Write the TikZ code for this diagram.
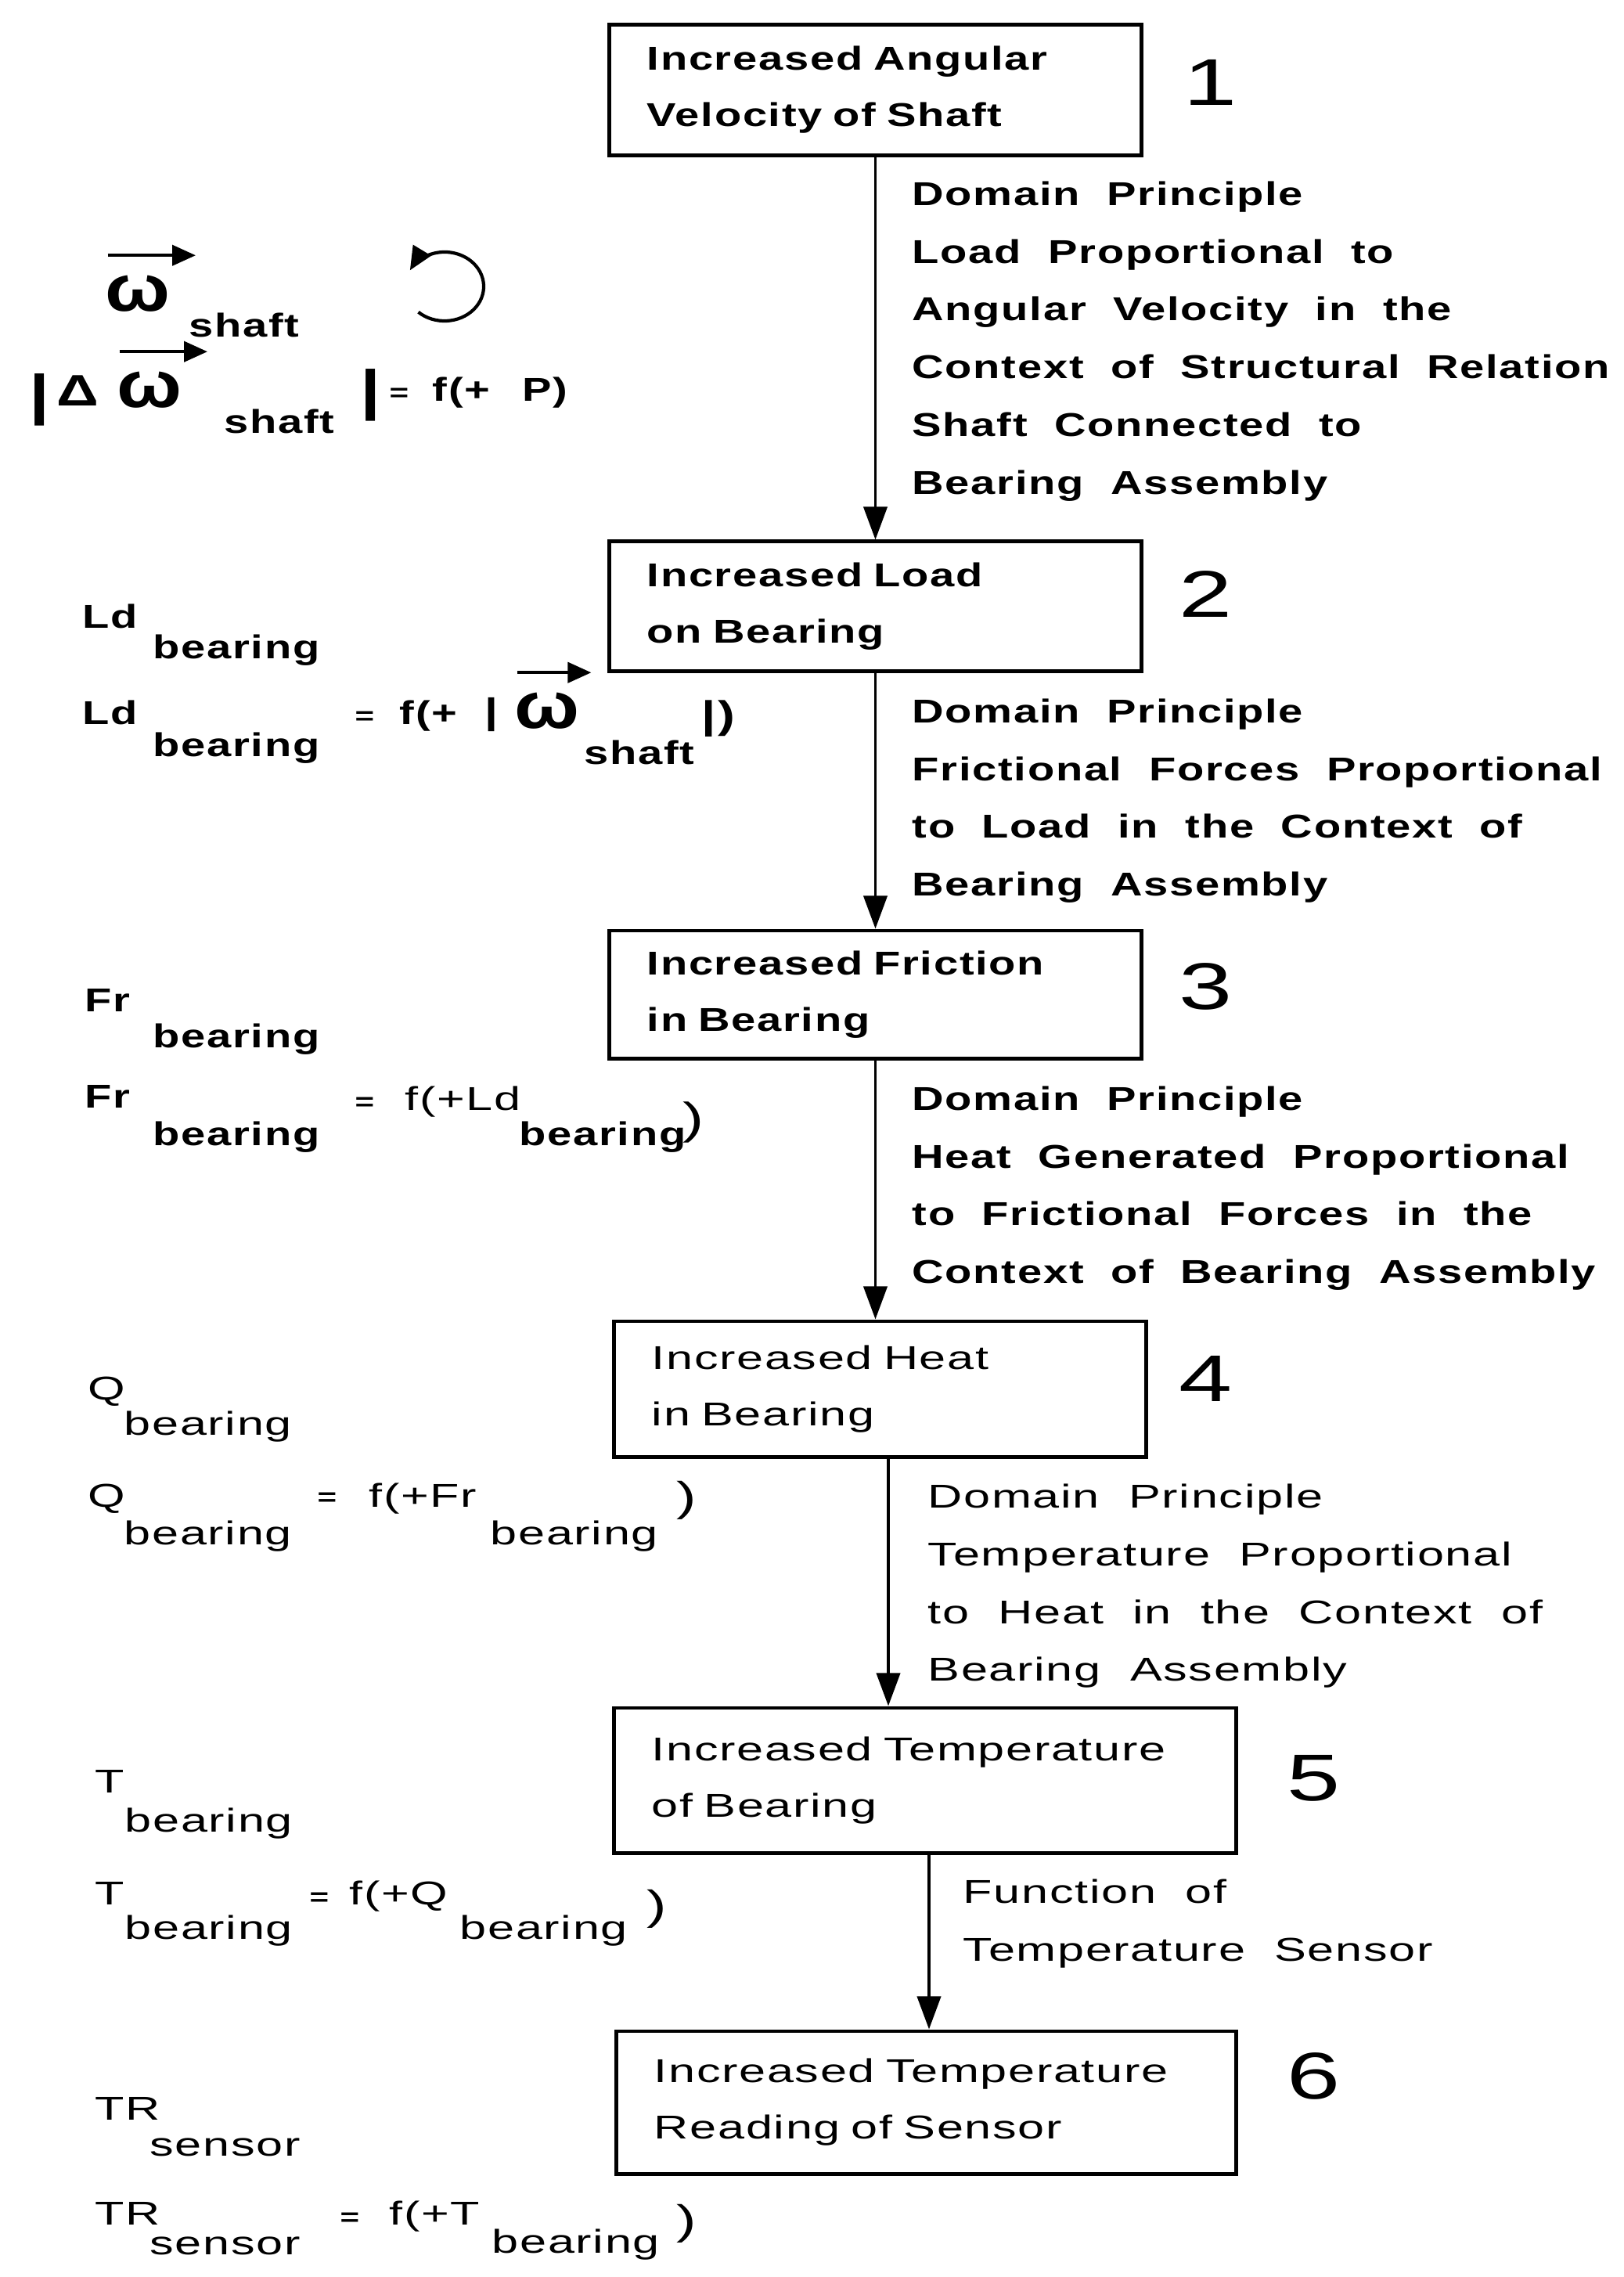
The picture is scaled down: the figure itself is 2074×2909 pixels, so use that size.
\documentclass[tikz,border=0pt]{standalone}
\usepackage{fontspec}
\usepackage{graphicx}
\setmainfont{Liberation Sans}[FakeStretch=1.45,LetterSpace=4,WordSpace=2,
  BoldFeatures={FakeStretch=1.33}]
\usetikzlibrary{arrows.meta}

\tikzset{
  stage/.style={draw, line width=1.4pt, align=left, inner xsep=0.48cm, inner ysep=0pt,
    font=\fontsize{12}{20.5}\selectfont},
  note/.style={align=left, inner sep=0pt, anchor=north west, font=\fontsize{12}{21}\selectfont},
  heavy/.style={execute at begin node=\bfseries},
  num/.style={inner sep=0pt, anchor=base west, font=\fontsize{24}{24}\selectfont},
  ann/.style={inner sep=0pt, anchor=base west, font=\fontsize{12}{12}\selectfont},
  annb/.style={ann, heavy},
  eqs/.style={ann, font=\fontsize{9}{9}\selectfont},
  tall/.style={ann, font=\fontsize{#1}{#1}\selectfont},
  flow/.style={line width=1.1pt, -{Triangle[length=4.2mm,width=3mm]}},
  vec/.style={line width=1.2pt, -{Triangle[length=3mm,width=2.6mm]}},
}
\newcommand{\bigom}{\scalebox{1.75}[2]{ω}}

\begin{document}
\begin{tikzpicture}[x=0.01cm, y=-0.01cm]
	\useasboundingbox (0,0) rectangle (2074,2909);

	% the chain of stages
	\node[stage, heavy, text width=5.83cm, minimum height=1.66cm] (b1) at (1118.5,115) {Increased Angular\\Velocity of Shaft};
	\node[stage, heavy, text width=5.83cm, minimum height=1.65cm] (b2) at (1118.5,774.5) {Increased Load\\on Bearing};
	\node[stage, heavy, text width=5.83cm, minimum height=1.63cm] (b3) at (1118.5,1270.5) {Increased Friction\\in Bearing};
	\node[stage, text width=5.83cm, minimum height=1.73cm] (b4) at (1124.5,1774.5) {Increased Heat\\in Bearing};
	\node[stage, text width=6.98cm, minimum height=1.85cm] (b5) at (1182,2274.5) {Increased Temperature\\of Bearing};
	\node[stage, text width=6.95cm, minimum height=1.82cm] (b6) at (1183.5,2686) {Increased Temperature\\Reading of Sensor};

	\node[num] (n1) at (1512,135) {1};
	\node[num] (n2) at (1506,788) {2};
	\node[num] (n3) at (1506,1289) {3};
	\node[num] (n4) at (1506,1790) {4};
	\node[num] (n5) at (1644,2300) {5};
	\node[num] (n6) at (1644,2681) {6};

	\foreach \a/\b/\s in {b1/b2/0, b2/b3/0, b3/b4/0, b4/b5/0.105, b5/b6/0.05}
		\draw[flow] ([xshift=\s cm]\a.south) -- ([xshift=\s cm]\a.south |- \b.north);

	% principles along the arrows
	\node[note, heavy] (l1) at (1165,231) {Domain Principle\\Load Proportional to\\Angular Velocity in the\\Context of Structural Relation\\Shaft Connected to\\Bearing Assembly};
	\node[note, heavy] (l2) at (1165,892) {Domain Principle\\Frictional Forces Proportional\\to Load in the Context of\\Bearing Assembly};
	\node[note, heavy] (l3) at (1165,1387) {Domain Principle\\Heat Generated Proportional\\to Frictional Forces in the\\Context of Bearing Assembly};
	\node[note] (l4) at (1185,1895) {Domain Principle\\Temperature Proportional\\to Heat in the Context of\\Bearing Assembly};
	\node[note] (l5) at (1230,2400) {Function of\\Temperature Sensor};

	% quantities on the left
	\node[annb] (om1) at (134,397) {\bigom};
	\node[annb] (om2) at (149,520) {\bigom};
	\node[annb] (om3) at (657,930) {\bigom};
	\foreach \o/\e in {om1/9, om2/9, om3/4}
		\draw[vec] ([xshift=1pt,yshift=7pt]\o.north west) -- ([xshift=\e pt,yshift=7pt]\o.north east);

	\coordinate (rotc) at (568,366);
	\draw[vec] (rotc) ++(228:0.5cm and 0.44cm) arc[start angle=228, end angle=512, x radius=0.5cm, y radius=0.44cm];

	\node[tall=16, heavy] (dl) at (72,518) {Δ};
	\node[tall=20, heavy] (k1) at (37,528) {|};
	\node[tall=20, heavy] (k2) at (460,522) {|};
	\node[tall=13, heavy] (k3) at (619,924) {|};
	\node[tall=14, heavy] (k4) at (896,930) {|)};
	\node[tall=16] (k5) at (872,1448) {)};
	\node[tall=15] (k6) at (864,1930) {)};
	\node[tall=15] (k7) at (826,2452) {)};
	\node[tall=15] (k8) at (864,2854) {)};

	\foreach \x/\y/\t [count=\i] in {
		241/430/shaft, 286/553/shaft, 552/512/{f(+}, 667/512/{P)},
		105/802/Ld, 195/841/bearing,
		105/925/Ld, 195/966/bearing, 510/925/{f(+}, 746/976/shaft,
		108/1292/Fr, 195/1338/bearing,
		108/1415/Fr, 195/1463/bearing, 663/1463/bearing}
		\node[annb] (p\i) at (\x,\y) {\t};
	\foreach \x/\y/\t [count=\i] in {
		517/1418/{f(+Ld},
		112/1788/Q, 158/1833/bearing,
		112/1925/Q, 158/1973/bearing, 471/1925/{f(+Fr}, 626/1973/bearing,
		121/2290/T, 159/2340/bearing,
		121/2433/T, 159/2477/bearing, 446/2433/{f(+Q}, 587/2477/bearing,
		121/2708/TR, 191/2754/sensor,
		121/2842/TR, 191/2880/sensor, 497/2842/{f(+T}, 628/2878/bearing}
		\node[ann] (q\i) at (\x,\y) {\t};
	\foreach \x/\y [count=\i] in {497/512, 453/925, 453/1418, 405/1923, 395/2434, 434/2843}
		\node[eqs, heavy] (e\i) at (\x,\y) {=};
\end{tikzpicture}
\end{document}
